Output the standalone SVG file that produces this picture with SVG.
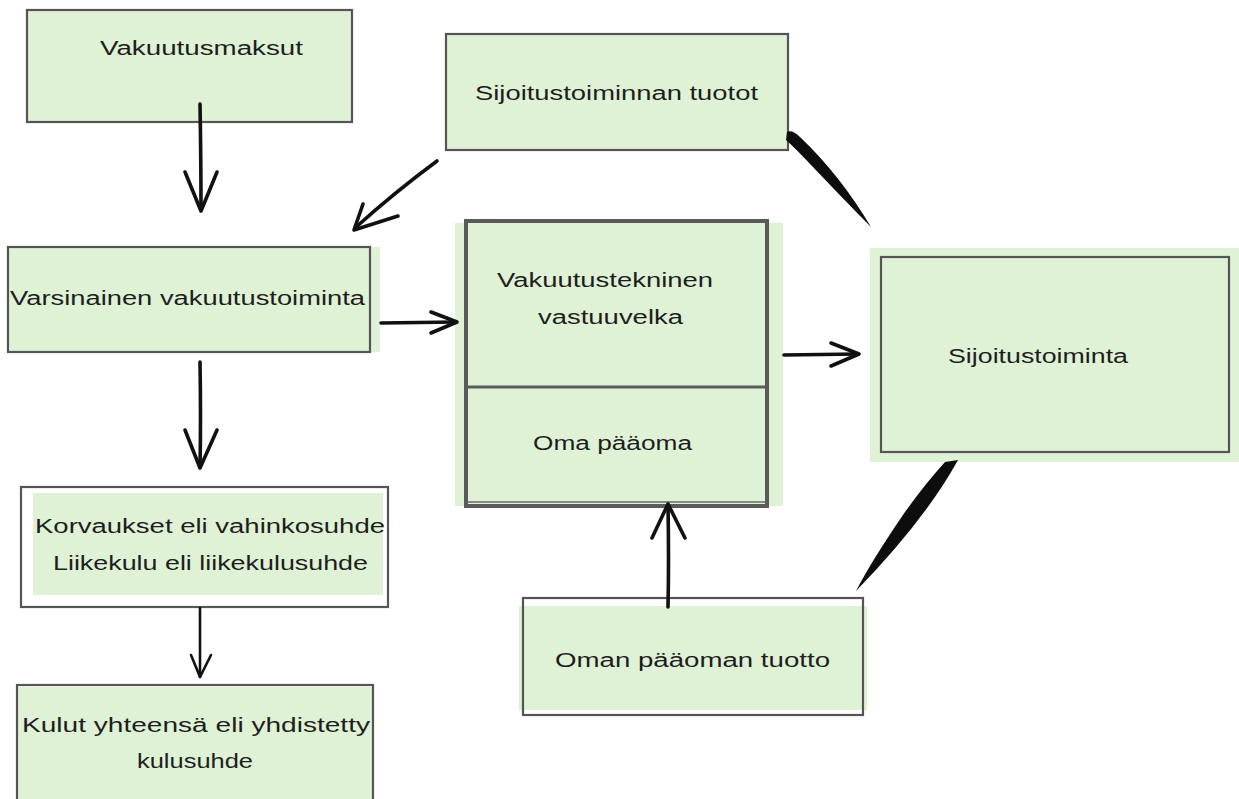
<svg xmlns="http://www.w3.org/2000/svg" width="1239" height="799" viewBox="0 0 1239 799">
  <style>
    .fill { fill: #dff2d6; stroke: none; }
    .border { fill: none; stroke: #555; stroke-width: 2.2; }
    .border-thick { fill: none; stroke: #5a5a5a; stroke-width: 4; }
    .label { font-family: "Liberation Sans", Arial, sans-serif; font-size: 20px; fill: #1e1e1e; }
    .arrow { fill: none; stroke: #111; stroke-width: 3.6; stroke-linecap: round; stroke-linejoin: round; }
    .arrow-thin { fill: none; stroke: #111; stroke-width: 2.6; stroke-linecap: round; stroke-linejoin: round; }
    .brush { fill: #0d0d0d; stroke: none; }
  </style>
  <rect width="1239" height="799" fill="#ffffff"/>

  <!-- Vakuutusmaksut -->
  <g id="vakuutusmaksut">
    <rect class="fill" x="27" y="10" width="325" height="112"/>
    <rect class="border" x="27" y="10" width="325" height="112"/>
    <text class="label" x="100" y="55" textLength="203" lengthAdjust="spacingAndGlyphs">Vakuutusmaksut</text>
  </g>

  <!-- Sijoitustoiminnan tuotot -->
  <g id="sijoitustoiminnan-tuotot">
    <rect class="fill" x="446" y="34" width="342" height="116"/>
    <rect class="border" x="446" y="34" width="342" height="116"/>
    <text class="label" x="475" y="100" textLength="283" lengthAdjust="spacingAndGlyphs">Sijoitustoiminnan tuotot</text>
  </g>

  <!-- Varsinainen vakuutustoiminta -->
  <g id="varsinainen-vakuutustoiminta">
    <rect class="fill" x="8" y="247" width="372" height="105"/>
    <rect class="border" x="8" y="247" width="362" height="105"/>
    <text class="label" x="10" y="305" textLength="355" lengthAdjust="spacingAndGlyphs">Varsinainen vakuutustoiminta</text>
  </g>

  <!-- Vakuutustekninen vastuuvelka / Oma pääoma -->
  <g id="tase">
    <rect class="fill" x="455" y="223" width="328" height="283"/>
    <rect class="border-thick" x="466" y="221" width="301" height="285"/>
    <line x1="466" y1="502" x2="767" y2="502" stroke="#666" stroke-width="1.5"/>
    <line x1="466" y1="387" x2="767" y2="387" stroke="#5a5a5a" stroke-width="3"/>
    <text class="label" x="497" y="287" textLength="216" lengthAdjust="spacingAndGlyphs">Vakuutustekninen</text>
    <text class="label" x="538" y="324" textLength="145" lengthAdjust="spacingAndGlyphs">vastuuvelka</text>
    <text class="label" x="533" y="450" textLength="159" lengthAdjust="spacingAndGlyphs">Oma pääoma</text>
  </g>

  <!-- Sijoitustoiminta -->
  <g id="sijoitustoiminta">
    <rect class="fill" x="870" y="248" width="369" height="214"/>
    <rect class="border" x="881" y="257" width="348" height="195"/>
    <text class="label" x="948" y="363" textLength="180" lengthAdjust="spacingAndGlyphs">Sijoitustoiminta</text>
  </g>

  <!-- Korvaukset / Liikekulu -->
  <g id="korvaukset">
    <rect class="fill" x="33" y="493" width="350" height="102"/>
    <rect class="border" x="21" y="487" width="367" height="120"/>
    <text class="label" x="35" y="533" textLength="350" lengthAdjust="spacingAndGlyphs">Korvaukset eli vahinkosuhde</text>
    <text class="label" x="53" y="570" textLength="315" lengthAdjust="spacingAndGlyphs">Liikekulu eli liikekulusuhde</text>
  </g>

  <!-- Oman pääoman tuotto -->
  <g id="oman-paaoman-tuotto">
    <rect class="fill" x="519" y="606" width="348" height="104"/>
    <rect class="border" x="523" y="598" width="340" height="117"/>
    <text class="label" x="555" y="667" textLength="275" lengthAdjust="spacingAndGlyphs">Oman pääoman tuotto</text>
  </g>

  <!-- Kulut yhteensä -->
  <g id="kulut-yhteensa">
    <rect class="fill" x="18" y="687" width="354" height="112"/>
    <rect class="border" x="17" y="685" width="356" height="120"/>
    <text class="label" x="22" y="732" textLength="348" lengthAdjust="spacingAndGlyphs">Kulut yhteensä eli yhdistetty</text>
    <text class="label" x="137" y="768" textLength="116" lengthAdjust="spacingAndGlyphs">kulusuhde</text>
  </g>

  <!-- connectors -->
  <g id="connectors">
    <!-- Vakuutusmaksut to Varsinainen -->
    <path class="arrow" d="M200,104 Q201,160 201,210"/>
    <path class="arrow" d="M185,172 L201,211 L217,172"/>
    <!-- Sijoitustoiminnan tuotot to Varsinainen -->
    <path class="arrow" d="M437,161 Q395,192 355,228"/>
    <path class="arrow" d="M363,204 L354,230 L398,216"/>
    <!-- Varsinainen to tase -->
    <path class="arrow" d="M381,323 L456,322"/>
    <path class="arrow" d="M431,312 L457,322 L431,333"/>
    <!-- tase to Sijoitustoiminta -->
    <path class="arrow" d="M784,355 L858,354"/>
    <path class="arrow" d="M831,343 L859,354 L831,366"/>
    <!-- Oman pääoman tuotto to tase -->
    <path class="arrow" d="M668,607 Q669,560 668,505"/>
    <path class="arrow" d="M652,538 L668,504 L685,538"/>
    <!-- Varsinainen to Korvaukset -->
    <path class="arrow" d="M200,362 Q201,420 200,467"/>
    <path class="arrow" d="M185,430 L200,468 L217,430"/>
    <!-- Korvaukset to Kulut -->
    <path class="arrow-thin" d="M200,608 L200,677"/>
    <path class="arrow-thin" d="M191,655 L200,677 L211,655"/>
    <!-- brush strokes linking Sijoitustoiminta -->
    <path class="brush" d="M787,132 Q792,129 800,137 Q840,175 871,227 Q852,208 812,166 Q795,148 786,140 Z"/>
    <path class="brush" d="M945,462 L958,460 Q925,520 856,591 Q872,560 905,512 Q925,484 945,462 Z"/>
  </g>
</svg>
